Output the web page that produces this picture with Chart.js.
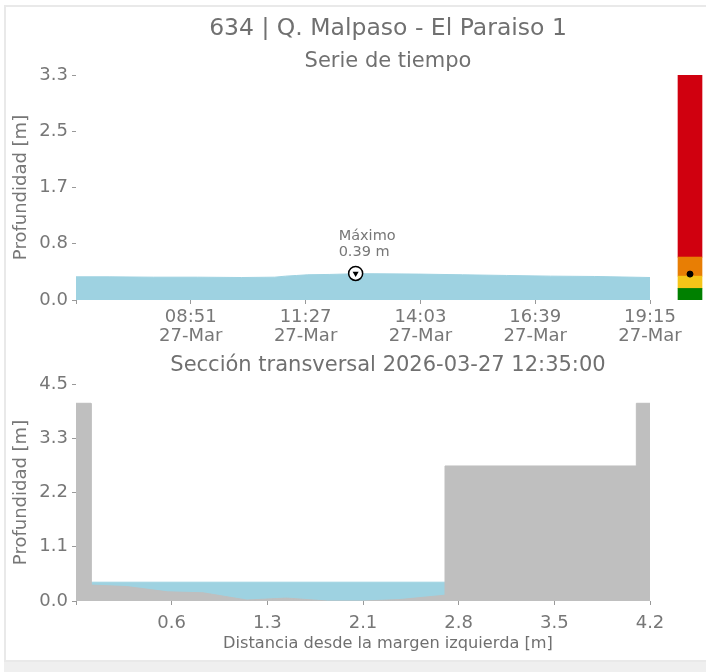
<!DOCTYPE html>
<html><head><meta charset="utf-8">
<script src="https://cdn.jsdelivr.net/npm/chart.js@4"></script>
<style>
html,body{margin:0;padding:0;background:#fff;overflow:hidden;width:706px;height:672px;font-family:"DejaVu Sans",sans-serif;}
#card{position:absolute;left:4px;top:5px;width:702px;height:653px;border:2px solid #e9e9e9;border-right:none;}
#band{position:absolute;left:4px;top:662px;width:702px;height:10px;background:#efefef;}
.t{position:absolute;left:0;width:776px;text-align:center;color:#707070;white-space:nowrap;}
canvas{position:absolute;}
</style></head>
<body>
<div id="card"></div><div id="band"></div>
<canvas id="c1" width="706" height="350" style="left:0;top:0"></canvas>
<canvas id="c2" width="40" height="350" style="left:670px;top:0"></canvas>
<canvas id="c3" width="706" height="310" style="left:0;top:350px"></canvas>
<div class="t" style="top:13px;font-size:23.5px;line-height:28px">634 | Q. Malpaso - El Paraiso 1</div>
<div class="t" style="top:47px;font-size:21px;line-height:26px">Serie de tiempo</div>
<div class="t" style="top:351px;font-size:21px;line-height:26px">Sección transversal 2026-03-27 12:35:00</div>
<div class="t" style="top:633px;font-size:16.2px;line-height:20px">Distancia desde la margen izquierda [m]</div>
<script>
// ---- Time series data ----
const seriesTimes = ['06:15','07:00','08:00','09:00','10:00','10:45','11:00','11:15','11:30','12:00','12:35','13:00','14:00','15:00','16:00','17:00','18:00','19:15'];
const seriesDepth = [0.34,0.34,0.335,0.335,0.33,0.335,0.35,0.36,0.37,0.375,0.385,0.385,0.38,0.37,0.36,0.35,0.345,0.33];
const timeTicks = ['06:15','08:51','11:27','14:03','16:39','19:15'];
const dateTickLabel = '27-Mar';
const depthTickValues = [0, 0.825, 1.65, 2.475, 3.3];
const depthTickLabels = ['0.0','0.8','1.7','2.5','3.3'];
const maxTime = '12:35';
const maxDepth = 0.39;
// ---- Alert bar ----
const alertThresholds = [0, 0.17, 0.35, 0.63, 3.3];
const alertColors = ['#008000', '#f5c518', '#e87e04', '#d0000f'];
const currentLevel = 0.38;
// ---- Cross section ----
const sectionX   = [0, 0.11, 0.11, 0.37, 0.67, 0.93, 1.25, 1.54, 1.84, 2.10, 2.37, 2.70, 2.70, 4.10, 4.10, 4.20];
const sectionBed = [4.1, 4.1, 0.33, 0.30, 0.19, 0.17, 0.02, 0.06, 0.00, 0.00, 0.03, 0.12, 2.80, 2.80, 4.10, 4.10];
const waterX = [0.11, 2.70];
const waterLevel = 0.39;
const sectionXTickValues = [0, 0.7, 1.4, 2.1, 2.8, 3.5, 4.2];
const sectionXTickLabels = ['', '0.6', '1.3', '2.1', '2.8', '3.5', '4.2'];
const sectionYTickValues = [0, 1.125, 2.25, 3.375, 4.5];
const sectionYTickLabels = ['0.0', '1.1', '2.2', '3.3', '4.5'];

const TXT = '#777';
const FONT = 'DejaVu Sans';
const toMin = s => { const [h, m] = s.split(':').map(Number); return h * 60 + m; };

const maxLabelPlugin = {
  id: 'maxLabel',
  afterDatasetsDraw(chart) {
    const {ctx, scales: {x, y}} = chart;
    const px = x.getPixelForValue(toMin(maxTime)), py = y.getPixelForValue(maxDepth);
    ctx.save();
    ctx.font = '14.5px "' + FONT + '"';
    ctx.fillStyle = TXT;
    ctx.textAlign = 'left';
    ctx.textBaseline = 'middle';
    ctx.fillText('Máximo', px - 17, py - 37);
    ctx.fillText(maxDepth.toFixed(2) + ' m', px - 17, py - 21);
    ctx.restore();
  }
};

const common = {
  responsive: false, animation: false, events: [],
  plugins: {legend: {display: false}, tooltip: {enabled: false}}
};

new Chart(document.getElementById('c1'), {
  type: 'line',
  data: {datasets: [
    {data: [{x: toMin(maxTime), y: maxDepth}], pointStyle: 'triangle', rotation: 180, pointRadius: 3.5,
     backgroundColor: '#000', borderColor: '#000', borderWidth: 0, showLine: false},
    {data: [{x: toMin(maxTime), y: maxDepth}], pointStyle: 'circle', pointRadius: 7,
     backgroundColor: '#fff', borderColor: '#000', borderWidth: 1.5, showLine: false},
    {data: seriesTimes.map((t, i) => ({x: toMin(t), y: seriesDepth[i]})), fill: 'origin',
     backgroundColor: '#9ed2e1', borderColor: '#9ed2e1', borderWidth: 1, pointRadius: 0, tension: 0}
  ]},
  options: Object.assign({}, common, {
    layout: {padding: {left: 0, right: 56, top: 75, bottom: 0}},
    scales: {
      x: {type: 'linear', min: toMin(seriesTimes[0]), max: toMin(seriesTimes[seriesTimes.length - 1]),
        afterBuildTicks: s => { s.ticks = timeTicks.map(t => ({value: toMin(t)})); },
        ticks: {autoSkip: false, maxRotation: 0, padding: 3, color: TXT, font: {size: 18, family: FONT, lineHeight: 1.1},
          callback: (v, i) => i === 0 ? '' : [timeTicks[i], dateTickLabel]},
        grid: {drawOnChartArea: false, tickLength: 4, color: '#999'}, border: {display: false},
        afterFit: s => { s.height = 50; }},
      y: {min: 0, max: 3.3,
        afterBuildTicks: s => { s.ticks = depthTickValues.map(v => ({value: v})); },
        ticks: {padding: 4, color: TXT, font: {size: 18, family: FONT}, callback: (v, i) => depthTickLabels[i]},
        grid: {drawOnChartArea: false, tickLength: 4, color: '#999'}, border: {display: false},
        title: {display: true, text: 'Profundidad [m]', color: TXT, font: {size: 18, family: FONT}, padding: {top: 11, bottom: 0}},
        afterFit: s => { s.width = 76; }}
    }
  }),
  plugins: [maxLabelPlugin]
});

new Chart(document.getElementById('c2'), {
  type: 'bar',
  data: {labels: ['nivel'], datasets: [
    {type: 'line', data: [currentLevel], pointRadius: 3, backgroundColor: '#000', borderColor: '#000', showLine: false},
    ...alertColors.map((c, i) => ({data: [[alertThresholds[i], alertThresholds[i + 1]]], backgroundColor: c,
      barThickness: 24, grouped: false}))
  ]},
  options: Object.assign({}, common, {
    layout: {padding: {left: 0, right: 0, top: 75, bottom: 50}},
    scales: {x: {display: false}, y: {display: false, min: 0, max: 3.3}}
  })
});

new Chart(document.getElementById('c3'), {
  type: 'line',
  data: {datasets: [
    {data: sectionX.map((x, i) => ({x, y: sectionBed[i]})), fill: 'origin', backgroundColor: '#bfbfbf',
     borderColor: '#bfbfbf', borderWidth: 1, pointRadius: 0, tension: 0, order: 0},
    {data: waterX.map(x => ({x, y: waterLevel})), fill: 'origin', backgroundColor: '#9ed2e1',
     borderColor: '#9ed2e1', borderWidth: 1, pointRadius: 0, tension: 0, order: 1}
  ]},
  options: Object.assign({}, common, {
    layout: {padding: {left: 0, right: 56, top: 34, bottom: 0}},
    scales: {
      x: {type: 'linear', min: 0, max: 4.2,
        afterBuildTicks: s => { s.ticks = sectionXTickValues.map(v => ({value: v})); },
        ticks: {autoSkip: false, maxRotation: 0, padding: 8, color: TXT, font: {size: 18, family: FONT},
          callback: (v, i) => sectionXTickLabels[i]},
        grid: {drawOnChartArea: false, tickLength: 4, color: '#999'}, border: {display: false},
        afterFit: s => { s.height = 59; }},
      y: {min: 0, max: 4.5,
        afterBuildTicks: s => { s.ticks = sectionYTickValues.map(v => ({value: v})); },
        ticks: {padding: 4, color: TXT, font: {size: 18, family: FONT}, callback: (v, i) => sectionYTickLabels[i]},
        grid: {drawOnChartArea: false, tickLength: 4, color: '#999'}, border: {display: false},
        title: {display: true, text: 'Profundidad [m]', color: TXT, font: {size: 18, family: FONT}, padding: {top: 11, bottom: 0}},
        afterFit: s => { s.width = 76; }}
    }
  })
});
</script>
</body></html>
